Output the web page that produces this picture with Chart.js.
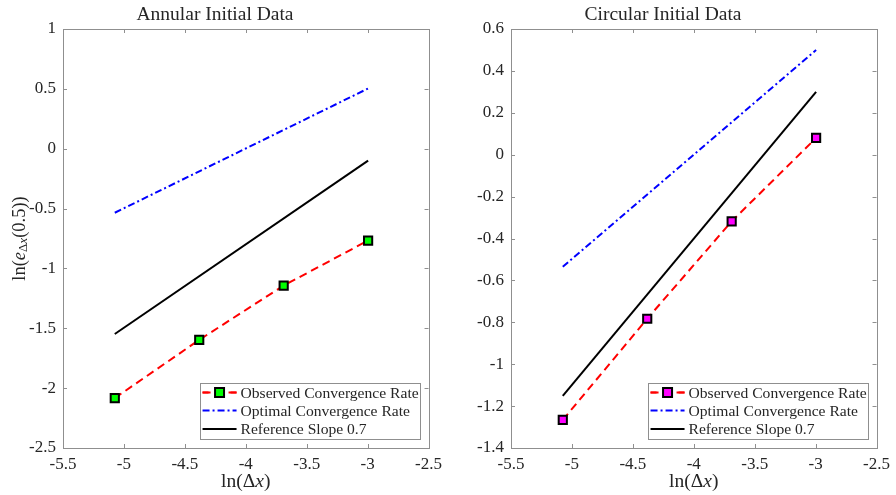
<!DOCTYPE html>
<html>
<head>
<meta charset="utf-8">
<script src="https://cdn.jsdelivr.net/npm/chart.js@4.4.1/dist/chart.umd.min.js"></script>
<style>
  html, body { margin: 0; padding: 0; background: #fff; }
  .panel { position: absolute; top: 0; width: 448px; height: 495px; }
</style>
</head>
<body>
<div class="panel" style="left:0"><canvas id="annular"></canvas></div>
<div class="panel" style="left:448px"><canvas id="circular"></canvas></div>
<script>
// ln(dx) for dx = 1/160, 1/80, 1/40, 1/20
var lnDx = [-5.075, -4.382, -3.689, -2.996];
var lineEnds = [-5.075, -2.996];

// annular initial data
var annObserved = [-2.083, -1.597, -1.143, -0.767];
var annOptimal = [-0.535, 0.503];
var annReference = [-1.548, -0.100];

// circular initial data
var circObserved = [-1.266, -0.783, -0.318, 0.080];
var circOptimal = [-0.535, 0.500];
var circReference = [-1.151, 0.300];

var xTicks = [-5.5, -5, -4.5, -4, -3.5, -3, -2.5];
var legendLabels = ["Observed Convergence Rate", "Optimal Convergence Rate", "Reference Slope 0.7"];

var serif = "'Liberation Serif', 'DejaVu Serif', serif";
var textColor = "#262626";
var boxColor = "#8f8f8f";

function pts(xs, ys) {
    return xs.map(function (x, i) { return { x: x, y: ys[i] }; });
}

// MATLAB-ish box with inward ticks on all four sides
var boxPlugin = {
    id: "boxTicks",
    afterDatasetsDraw: function (chart) {
        var c = chart.ctx, a = chart.chartArea;
        var xs = chart.scales.x, ys = chart.scales.y;
        c.save();
        c.strokeStyle = boxColor;
        c.lineWidth = 1;
        c.beginPath();
        xs.ticks.forEach(function (t) {
            var px = Math.round(xs.getPixelForValue(t.value)) + 0.5;
            c.moveTo(px, a.bottom); c.lineTo(px, a.bottom - 4);
            c.moveTo(px, a.top); c.lineTo(px, a.top + 4);
        });
        ys.ticks.forEach(function (t) {
            var py = Math.round(ys.getPixelForValue(t.value)) + 0.5;
            c.moveTo(a.left, py); c.lineTo(a.left + 4, py);
            c.moveTo(a.right, py); c.lineTo(a.right - 4, py);
        });
        c.stroke();
        c.strokeRect(Math.round(a.left) + 0.5, Math.round(a.top) + 0.5,
            Math.round(a.right - a.left), Math.round(a.bottom - a.top));
        c.restore();
    }
};

// legend box in the lower right corner
var legendPlugin = {
    id: "innerLegend",
    afterDraw: function (chart) {
        var c = chart.ctx, a = chart.chartArea;
        var w = 220, h = 56;
        var left = a.right - 9 - w, top = a.bottom - 9 - h;
        c.save();
        c.fillStyle = "#fff";
        c.fillRect(left, top, w, h);
        c.strokeStyle = boxColor;
        c.lineWidth = 1;
        c.strokeRect(Math.round(left) + 0.5, Math.round(top) + 0.5, w, h);
        var rows = [9.5, 27.5, 46];
        chart.data.datasets.forEach(function (ds, i) {
            var y = top + rows[i];
            var x0 = left + 3, x1 = left + 37;
            c.strokeStyle = ds.borderColor;
            c.lineWidth = ds.borderWidth;
            c.setLineDash(ds.borderDash || []);
            c.beginPath();
            c.moveTo(x0, y); c.lineTo(x1, y);
            c.stroke();
            c.setLineDash([]);
            if (ds.pointRadius > 0) {
                var s = 9;
                c.fillStyle = "#fff";
                c.fillRect((x0 + x1) / 2 - 8, y - 4, 16, 8);
                c.strokeStyle = ds.borderColor;
                c.beginPath();
                c.moveTo(x0, y); c.lineTo(x0 + 6, y);
                c.moveTo(x1 - 6, y); c.lineTo(x1, y);
                c.stroke();
                c.fillStyle = ds.pointBackgroundColor;
                c.strokeStyle = "#000";
                c.lineWidth = 2;
                c.fillRect((x0 + x1) / 2 - s / 2, y - s / 2, s, s);
                c.strokeRect((x0 + x1) / 2 - s / 2, y - s / 2, s, s);
            }
            c.fillStyle = textColor;
            c.font = "15.6px " + serif;
            c.textBaseline = "middle";
            c.textAlign = "left";
            c.fillText(ds.label, left + 41, y + 1);
        });
        c.restore();
    }
};

// draw a run of text pieces, each {t, font, dy}
function drawPieces(c, pieces, cx, cy) {
    var total = 0;
    pieces.forEach(function (p) { c.font = p.font; p.w = c.measureText(p.t).width; total += p.w; });
    var x = cx - total / 2;
    pieces.forEach(function (p) {
        c.font = p.font;
        c.fillText(p.t, x, cy + (p.dy || 0));
        x += p.w;
    });
}

var axisLabelPlugin = {
    id: "mathLabels",
    afterDraw: function (chart, args, opts) {
        var c = chart.ctx, a = chart.chartArea;
        c.save();
        c.fillStyle = textColor;
        c.textBaseline = "middle";
        c.textAlign = "left";
        drawPieces(c, [
            { t: "ln(", font: "19.5px " + serif }, { t: "\u0394", font: "19.5px " + serif },
            { t: "x", font: "italic 19.5px " + serif }, { t: ")", font: "19.5px " + serif }
        ], (a.left + a.right) / 2, 482);
        if (opts.yLabel) {
            c.translate(20, (a.top + a.bottom) / 2);
            c.rotate(-Math.PI / 2);
            drawPieces(c, [
                { t: "ln(", font: "18.5px " + serif }, { t: "e", font: "italic 18.5px " + serif },
                { t: "\u0394", font: "13px " + serif, dy: 4 }, { t: "x", font: "italic 13px " + serif, dy: 4 },
                { t: "(0.5))", font: "18.5px " + serif }
            ], 0, 0);
        }
        c.restore();
    }
};

function fmt(v) {
    var r = Math.round(v * 10) / 10;
    return String(r);
}

function makeChart(id, title, observed, optimal, reference, markerColor, yMin, yMax, yStep, yLabel) {
    return new Chart(document.getElementById(id), {
        type: "line",
        data: {
            datasets: [
                {
                    label: legendLabels[0],
                    data: pts(lnDx, observed),
                    borderColor: "#ff0000",
                    borderWidth: 2,
                    borderDash: [8, 5],
                    pointStyle: "rect",
                    pointRadius: 5.8,
                    pointBorderWidth: 2,
                    pointBorderColor: "#000",
                    pointBackgroundColor: markerColor
                },
                {
                    label: legendLabels[1],
                    data: pts(lineEnds, optimal),
                    borderColor: "#0000ff",
                    borderWidth: 2,
                    borderDash: [7, 3, 2, 3],
                    pointRadius: 0
                },
                {
                    label: legendLabels[2],
                    data: pts(lineEnds, reference),
                    borderColor: "#000000",
                    borderWidth: 2,
                    pointRadius: 0
                }
            ]
        },
        options: {
            responsive: true,
            maintainAspectRatio: false,
            animation: false,
            layout: { padding: { left: 0, right: 18, top: 0, bottom: 0 } },
            plugins: {
                legend: { display: false },
                tooltip: { enabled: false },
                title: {
                    display: true,
                    text: title,
                    color: textColor,
                    font: { family: serif, size: 19.5, weight: "normal" },
                    padding: { top: 3, bottom: 2.6 }
                },
                mathLabels: { yLabel: yLabel }
            },
            scales: {
                x: {
                    type: "linear",
                    min: -5.5,
                    max: -2.5,
                    afterBuildTicks: function (s) { s.ticks = xTicks.map(function (v) { return { value: v }; }); },
                    afterFit: function (s) { s.height = 47; },
                    grid: { display: false, drawTicks: false },
                    border: { display: false },
                    ticks: {
                        color: textColor,
                        font: { family: serif, size: 17 },
                        padding: 6,
                        maxRotation: 0,
                        autoSkip: false,
                        callback: fmt
                    }
                },
                y: {
                    type: "linear",
                    min: yMin,
                    max: yMax,
                    afterFit: function (s) { s.width = 63; },
                    grid: { display: false, drawTicks: false },
                    border: { display: false },
                    ticks: {
                        stepSize: yStep,
                        color: textColor,
                        font: { family: serif, size: 17 },
                        padding: 7,
                        autoSkip: false,
                        callback: fmt
                    }
                }
            }
        },
        plugins: [boxPlugin, legendPlugin, axisLabelPlugin]
    });
}

makeChart("annular", "Annular Initial Data", annObserved, annOptimal, annReference, "#00ff00", -2.5, 1, 0.5, true);
makeChart("circular", "Circular Initial Data", circObserved, circOptimal, circReference, "#ff00ff", -1.4, 0.6, 0.2, false);
</script>
</body>
</html>
